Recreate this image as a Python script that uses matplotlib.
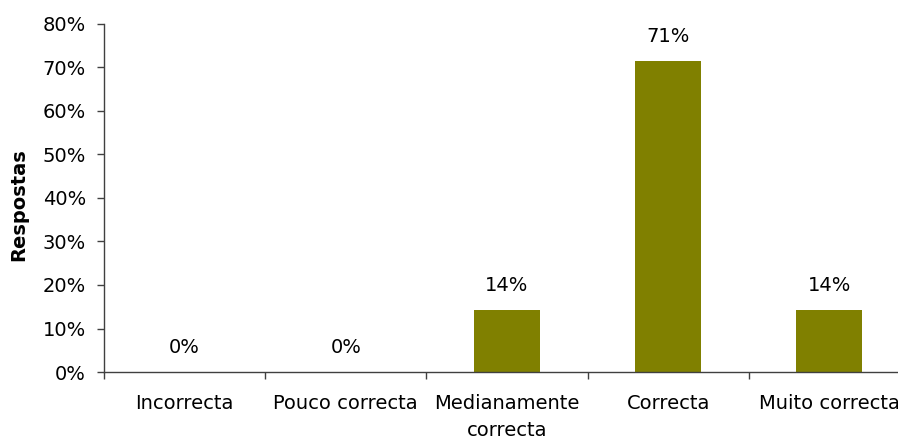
import numpy as np
import matplotlib
matplotlib.use('Agg')
import matplotlib.pyplot as plt

categories = ['Incorrecta', 'Pouco correcta', 'Medianamente\ncorrecta', 'Correcta', 'Muito correcta']
values = [0.0, 0.0, 14.3, 71.4, 14.3]
value_labels = ['0%', '0%', '14%', '71%', '14%']
y_ticks = [0, 10, 20, 30, 40, 50, 60, 70, 80]

plt.rcParams['font.family'] = ['DejaVu Sans']
fs = 14

fig = plt.figure(figsize=(8.98, 4.41), dpi=100)
ax = fig.add_axes([104 / 898, 69 / 441, 806 / 898, 348 / 441])

x = np.arange(len(categories))
ax.bar(x, values, width=0.41, color='#808000', zorder=2)

for xi, v, lab in zip(x, values, value_labels):
    ax.annotate(lab, (xi, v), xytext=(0, 11), textcoords='offset points',
                ha='center', va='bottom', fontsize=fs, color='black')

ax.set_xlim(-0.5, len(categories) - 0.5)
ax.set_ylim(0, 80)
ax.set_yticks(y_ticks)
ax.set_yticklabels([f'{t}%' for t in y_ticks], fontsize=fs)

# boundary ticks, labels at centers
ax.set_xticks(np.arange(len(categories) + 1) - 0.5)
ax.set_xticklabels([])
ax.set_xticks(x, minor=True)
ax.set_xticklabels(categories, minor=True, fontsize=fs, linespacing=1.55)
ax.tick_params(axis='x', which='minor', length=0, pad=16)
ax.tick_params(axis='x', which='major', length=5, width=1, color='#404040', direction='out')
ax.tick_params(axis='y', length=5, width=1, color='#404040', direction='out', pad=8)

for s in ['top', 'right']:
    ax.spines[s].set_visible(False)
for s in ['left', 'bottom']:
    ax.spines[s].set_color('#404040')
    ax.spines[s].set_linewidth(1)

ax.set_ylabel('Respostas', fontsize=fs, fontweight='bold')
ax.yaxis.set_label_coords(-0.094, 0.48)

fig.savefig('out.png', dpi=100)
